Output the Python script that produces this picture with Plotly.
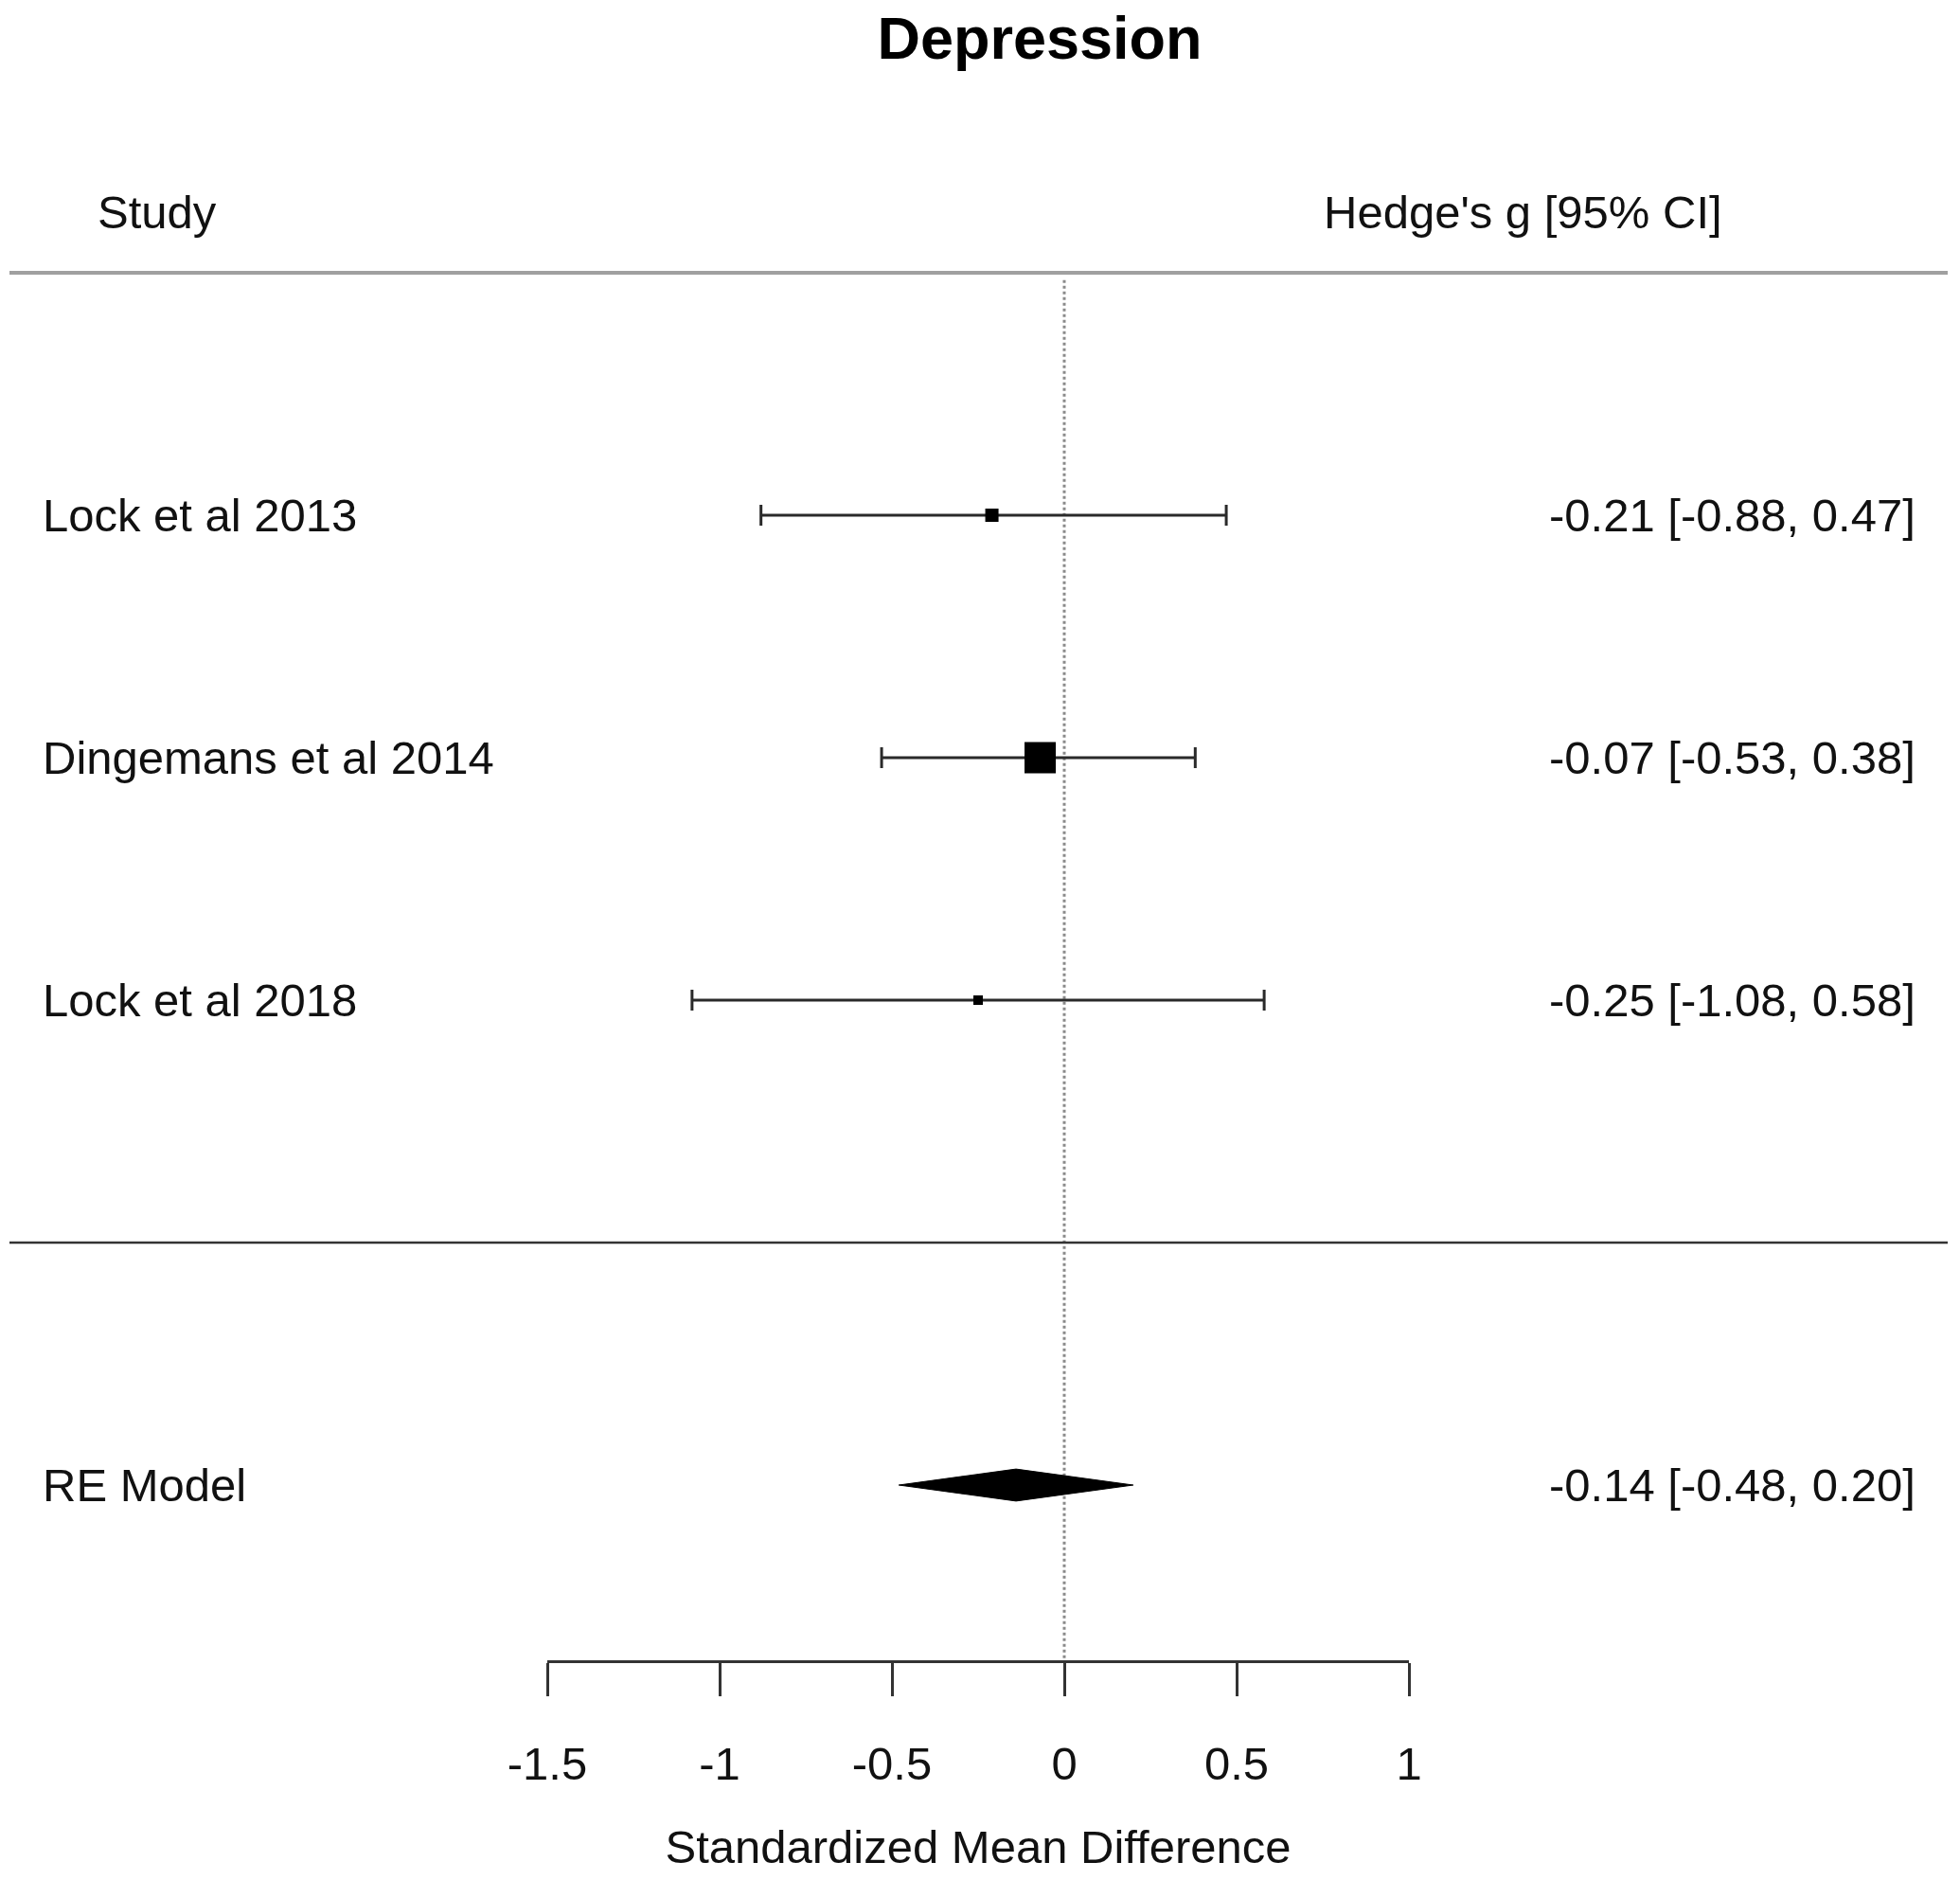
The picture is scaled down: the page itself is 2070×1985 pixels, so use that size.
import plotly.graph_objects as go

# ---------------- data ----------------
title_text = "Depression"
studies = ["Lock et al 2013", "Dingemans et al 2014", "Lock et al 2018"]
estimates = [-0.21, -0.07, -0.25]
ci_lower = [-0.88, -0.53, -1.08]
ci_upper = [0.47, 0.38, 0.58]
summary_label = "RE Model"
summary_est = -0.14
summary_lower = -0.48
summary_upper = 0.20
null_value = 0
tick_values = [-1.5, -1, -0.5, 0, 0.5, 1]
tick_labels = ["-1.5", "-1", "-0.5", "0", "0.5", "1"]
x_title = "Standardized Mean Difference"
header_left = "Study"
header_right = "Hedge's g [95% CI]"

# ---------------- style / layout ----------------
marker_sizes = [14, 33, 10]
FONT = "Liberation Sans, Arial, Helvetica, sans-serif"
TEXT_COLOR = "#111111"
OFF = 8                      # page body margin of the browser
W, H = 2070 - 2 * OFF, 1985 - 2 * OFF
ML = 578 - OFF
PLOT_W = 910
MR = W - ML - PLOT_W
MT = 100 - OFF
MB = H - (1753 - OFF)
PLOT_H = H - MT - MB
ROW_PX = 256.0

k = len(studies)
rows = [k - i for i in range(k)]          # 3, 2, 1
summary_row = -1
header_row = k + 1.25
top_rule_row = k + 1
mid_rule_row = 0
y_bottom = -1.72266
y_range = [y_bottom, y_bottom + PLOT_H / ROW_PX]


def xp(px):
    """reference pixel x -> paper x"""
    return (px - OFF - ML) / PLOT_W


fig = go.Figure()

# reference line at null value
fig.add_trace(go.Scatter(
    x=[null_value, null_value], y=[top_rule_row - 0.03, y_bottom],
    mode="lines", line=dict(color="#8a8a8a", width=3, dash="dot"),
    hoverinfo="skip", showlegend=False))

# confidence intervals
fig.add_trace(go.Scatter(
    x=estimates, y=rows, mode="markers",
    marker=dict(size=1, color="rgba(0,0,0,0)"),
    error_x=dict(type="data", symmetric=False,
                 array=[u - e for u, e in zip(ci_upper, estimates)],
                 arrayminus=[e - l for e, l in zip(estimates, ci_lower)],
                 color="#2a2a2a", thickness=3, width=11),
    hoverinfo="skip", showlegend=False))

# point estimates
fig.add_trace(go.Scatter(
    x=estimates, y=rows, mode="markers",
    marker=dict(symbol="square", size=marker_sizes, color="#000000",
                opacity=1, line=dict(width=0)),
    showlegend=False))

# summary diamond
h = 0.066
fig.add_trace(go.Scatter(
    x=[summary_lower, summary_est, summary_upper, summary_est, summary_lower],
    y=[summary_row, summary_row + h, summary_row, summary_row - h, summary_row],
    mode="lines", fill="toself", fillcolor="black",
    line=dict(color="black", width=1), showlegend=False))

# horizontal rules
fig.add_shape(type="line", xref="paper", yref="y",
              x0=xp(10), x1=xp(2057), y0=top_rule_row, y1=top_rule_row,
              line=dict(color="#a0a0a0", width=4))
fig.add_shape(type="line", xref="paper", yref="y",
              x0=xp(10), x1=xp(2057), y0=mid_rule_row, y1=mid_rule_row,
              line=dict(color="#333333", width=2.5))

ann_font = dict(family=FONT, size=49, color=TEXT_COLOR)

# left labels
for name, r in zip(studies + [summary_label], rows + [summary_row]):
    fig.add_annotation(x=xp(43), y=r, xref="paper", yref="y", text=name,
                       showarrow=False, xanchor="left", yanchor="middle",
                       font=ann_font)

# right CI text
for e, lo, hi, r in zip(estimates + [summary_est], ci_lower + [summary_lower],
                        ci_upper + [summary_upper], rows + [summary_row]):
    fig.add_annotation(x=xp(2025), y=r, xref="paper", yref="y",
                       text=f"{e:.2f} [{lo:.2f}, {hi:.2f}]",
                       showarrow=False, xanchor="right", yanchor="middle",
                       font=ann_font)

# headers
fig.add_annotation(x=xp(101), y=header_row, xref="paper", yref="y",
                   text=header_left, showarrow=False, xanchor="left",
                   yanchor="middle", font=ann_font)
fig.add_annotation(x=xp(1821), y=header_row, xref="paper", yref="y",
                   text=header_right, showarrow=False, xanchor="right",
                   yanchor="middle", font=ann_font)

fig.update_layout(
    width=W, height=H,
    margin=dict(l=ML, r=MR, t=MT, b=MB, pad=0, autoexpand=False),
    paper_bgcolor="white", plot_bgcolor="white",
    title=dict(text=title_text, x=(1098 - OFF) / W, xanchor="center",
               xref="container", y=1 - (40 - OFF) / H, yanchor="middle",
               yref="container",
               font=dict(family=FONT, size=63, color="black", weight="bold")),
    xaxis=dict(range=[tick_values[0], tick_values[-1]],
               tickvals=tick_values, ticktext=tick_labels,
               showline=True, linecolor="#333333", linewidth=2.5,
               ticks="outside", ticklen=35, tickwidth=2.5, tickcolor="#333333",
               ticklabelstandoff=29, automargin=False,
               tickfont=dict(family=FONT, size=49, color=TEXT_COLOR),
               showgrid=False, zeroline=False,
               title=dict(text=x_title, standoff=62,
                          font=dict(family=FONT, size=49, color=TEXT_COLOR))),
    yaxis=dict(range=y_range, visible=False, showgrid=False, zeroline=False,
               automargin=False),
    showlegend=False,
)

fig.write_html("out.html")
